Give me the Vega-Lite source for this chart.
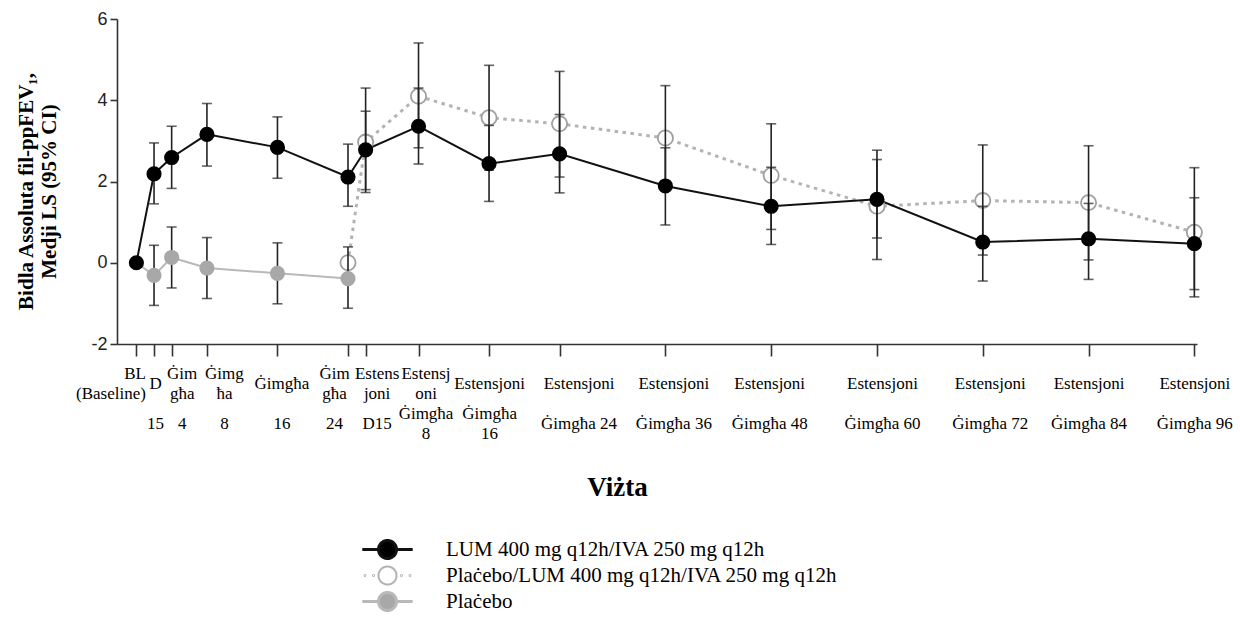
{
  "$schema": "https://vega.github.io/schema/vega-lite/v6.json",
  "width": 1080,
  "height": 325,
  "autosize": {"type": "none"},
  "padding": {"left": 117, "top": 19, "right": 43, "bottom": 274},
  "background": "white",
  "config": {
    "view": {"stroke": null},
    "axis": {"grid": false, "domainColor": "#333333", "domainWidth": 1.6, "tickColor": "#333333", "tickWidth": 1.6}
  },
  "data": {
    "values": [
      {"group": "LUM 400 mg q12h/IVA 250 mg q12h", "week": 0, "mean": 0, "lo": null, "hi": null},
      {"group": "LUM 400 mg q12h/IVA 250 mg q12h", "week": 2, "mean": 2.19, "lo": 1.45, "hi": 2.95},
      {"group": "LUM 400 mg q12h/IVA 250 mg q12h", "week": 4, "mean": 2.59, "lo": 1.83, "hi": 3.36},
      {"group": "LUM 400 mg q12h/IVA 250 mg q12h", "week": 8, "mean": 3.16, "lo": 2.38, "hi": 3.92},
      {"group": "LUM 400 mg q12h/IVA 250 mg q12h", "week": 16, "mean": 2.84, "lo": 2.08, "hi": 3.59},
      {"group": "LUM 400 mg q12h/IVA 250 mg q12h", "week": 24, "mean": 2.11, "lo": 1.39, "hi": 2.92},
      {"group": "LUM 400 mg q12h/IVA 250 mg q12h", "week": 26, "mean": 2.78, "lo": 1.8, "hi": 3.73},
      {"group": "LUM 400 mg q12h/IVA 250 mg q12h", "week": 32, "mean": 3.36, "lo": 2.43, "hi": 4.3},
      {"group": "LUM 400 mg q12h/IVA 250 mg q12h", "week": 40, "mean": 2.44, "lo": 1.51, "hi": 3.38},
      {"group": "LUM 400 mg q12h/IVA 250 mg q12h", "week": 48, "mean": 2.68, "lo": 1.72, "hi": 3.65},
      {"group": "LUM 400 mg q12h/IVA 250 mg q12h", "week": 60, "mean": 1.89, "lo": 0.93, "hi": 2.83},
      {"group": "LUM 400 mg q12h/IVA 250 mg q12h", "week": 72, "mean": 1.39, "lo": 0.45, "hi": 2.35},
      {"group": "LUM 400 mg q12h/IVA 250 mg q12h", "week": 84, "mean": 1.56, "lo": 0.61, "hi": 2.54},
      {"group": "LUM 400 mg q12h/IVA 250 mg q12h", "week": 96, "mean": 0.51, "lo": -0.45, "hi": 1.39},
      {"group": "LUM 400 mg q12h/IVA 250 mg q12h", "week": 108, "mean": 0.59, "lo": -0.41, "hi": 1.46},
      {"group": "LUM 400 mg q12h/IVA 250 mg q12h", "week": 120, "mean": 0.47, "lo": -0.66, "hi": 1.6},
      {"group": "Plaċebo", "week": 0, "mean": 0, "lo": null, "hi": null},
      {"group": "Plaċebo", "week": 2, "mean": -0.31, "lo": -1.05, "hi": 0.43},
      {"group": "Plaċebo", "week": 4, "mean": 0.13, "lo": -0.62, "hi": 0.88},
      {"group": "Plaċebo", "week": 8, "mean": -0.13, "lo": -0.88, "hi": 0.62},
      {"group": "Plaċebo", "week": 16, "mean": -0.26, "lo": -1.01, "hi": 0.49},
      {"group": "Plaċebo", "week": 24, "mean": -0.39, "lo": -1.12, "hi": 0.39},
      {"group": "Plaċebo/LUM 400 mg q12h/IVA 250 mg q12h", "week": 24, "mean": 0, "lo": null, "hi": null},
      {"group": "Plaċebo/LUM 400 mg q12h/IVA 250 mg q12h", "week": 26, "mean": 2.97, "lo": 1.73, "hi": 4.3},
      {"group": "Plaċebo/LUM 400 mg q12h/IVA 250 mg q12h", "week": 32, "mean": 4.1, "lo": 2.83, "hi": 5.41},
      {"group": "Plaċebo/LUM 400 mg q12h/IVA 250 mg q12h", "week": 40, "mean": 3.57, "lo": 2.28, "hi": 4.86},
      {"group": "Plaċebo/LUM 400 mg q12h/IVA 250 mg q12h", "week": 48, "mean": 3.42, "lo": 2.11, "hi": 4.71},
      {"group": "Plaċebo/LUM 400 mg q12h/IVA 250 mg q12h", "week": 60, "mean": 3.07, "lo": 1.78, "hi": 4.36},
      {"group": "Plaċebo/LUM 400 mg q12h/IVA 250 mg q12h", "week": 72, "mean": 2.15, "lo": 0.82, "hi": 3.42},
      {"group": "Plaċebo/LUM 400 mg q12h/IVA 250 mg q12h", "week": 84, "mean": 1.39, "lo": 0.08, "hi": 2.77},
      {"group": "Plaċebo/LUM 400 mg q12h/IVA 250 mg q12h", "week": 96, "mean": 1.53, "lo": 0.19, "hi": 2.9},
      {"group": "Plaċebo/LUM 400 mg q12h/IVA 250 mg q12h", "week": 108, "mean": 1.48, "lo": 0.07, "hi": 2.88},
      {"group": "Plaċebo/LUM 400 mg q12h/IVA 250 mg q12h", "week": 120, "mean": 0.75, "lo": -0.84, "hi": 2.34}
    ]
  },
  "encoding": {
    "x": {
      "field": "week", "type": "quantitative",
      "scale": {"domain": [-2.2, 120.3], "nice": false, "zero": false},
      "axis": {
        "title": "Viżta",
        "values": [0, 2, 4, 8, 16, 24, 26, 32, 40, 48, 60, 72, 84, 96, 108, 120],
        "labelExpr": "datum.value == 0 ? ['BL','\u200b','(Baseline)'] : datum.value == 2 ? ['\u200b','D','\u200b','\u200b','\u200b','15'] : datum.value == 4 ? ['Ġim','\u200b','għa','\u200b','\u200b','4'] : datum.value == 8 ? ['Ġimg','\u200b','ħa','\u200b','\u200b','8'] : datum.value == 16 ? ['\u200b','Ġimgħa','\u200b','\u200b','\u200b','16'] : datum.value == 24 ? ['Ġim','\u200b','għa','\u200b','\u200b','24'] : datum.value == 26 ? ['Estens','\u200b','joni','\u200b','\u200b','D15'] : datum.value == 32 ? ['Estensj','\u200b','oni','\u200b','Ġimgħa','\u200b','8'] : datum.value == 40 ? ['\u200b','Estensjoni','\u200b','\u200b','Ġimgħa','\u200b','16'] : ['\u200b','Estensjoni','\u200b','\u200b','\u200b','Ġimgħa ' + (datum.value - 24)]",
        "labelOverlap": false, "labelFlush": false, "labelBound": false, "labelAngle": 0,
        "labelFont": "Liberation Serif", "labelFontSize": 17, "labelLineHeight": 10,
        "labelColor": "#000000", "labelPadding": 9, "labelBaseline": "top", "tickSize": 12,
        "labelAlign": {"condition": {"test": "datum.value == 0", "value": "right"}, "value": "center"},
        "labelOffset": {
          "condition": [
            {"test": "datum.value == 0", "value": 9},
            {"test": "datum.value == 2", "value": 1},
            {"test": "datum.value == 4", "value": 10},
            {"test": "datum.value == 8", "value": 17},
            {"test": "datum.value == 16", "value": 4},
            {"test": "datum.value == 24", "value": -14},
            {"test": "datum.value == 26", "value": 11},
            {"test": "datum.value == 32", "value": 7},
            {"test": "datum.value == 48", "value": 19},
            {"test": "datum.value == 60", "value": 8},
            {"test": "datum.value == 72", "value": -2},
            {"test": "datum.value == 84", "value": 5},
            {"test": "datum.value == 96", "value": 7}
          ],
          "value": 0
        },
        "titleFont": "Liberation Serif", "titleFontSize": 27, "titleFontWeight": "bold",
        "titleColor": "#000000", "titleX": 500, "titleY": 143, "titleBaseline": "middle"
      }
    },
    "y": {
      "field": "mean", "type": "quantitative",
      "scale": {"domain": [-2, 6], "nice": false},
      "axis": {
        "title": ["Bidla Assoluta fil-ppFEV₁,", "Medji LS (95% CI)"],
        "values": [-2, 0, 2, 4, 6],
        "labelExpr": "replace(datum.label, '−', '-')",
        "labelFont": "Liberation Sans", "labelFontSize": 18, "labelColor": "#222222",
        "tickSize": 7, "labelPadding": 3,
        "titleFont": "Liberation Serif", "titleFontSize": 21, "titleFontWeight": "bold",
        "titleLineHeight": 23, "titleColor": "#000000", "titlePadding": 31, "titleY": 172
      }
    }
  },
  "layer": [
    {
      "transform": [{"filter": "datum.group == 'Plaċebo'"}],
      "mark": {"type": "line", "color": "#b9b9b9", "strokeWidth": 2}
    },
    {
      "transform": [{"filter": "datum.group == 'Plaċebo/LUM 400 mg q12h/IVA 250 mg q12h'"}],
      "mark": {"type": "line", "color": "#b3b3b3", "strokeWidth": 3, "strokeDash": [3.5, 4.5]}
    },
    {
      "transform": [{"filter": "datum.group == 'LUM 400 mg q12h/IVA 250 mg q12h'"}],
      "mark": {"type": "line", "strokeWidth": 2},
      "encoding": {
        "color": {
          "field": "group", "type": "nominal",
          "scale": {
            "domain": ["LUM 400 mg q12h/IVA 250 mg q12h", "Plaċebo/LUM 400 mg q12h/IVA 250 mg q12h", "Plaċebo"],
            "range": ["#111111", "#b3b3b3", "#b9b9b9"]
          },
          "legend": {
            "orient": "none", "legendX": 260, "legendY": 520, "title": null, "padding": 0,
            "direction": "vertical", "symbolSize": 324, "labelOffset": 48,
            "labelFont": "Liberation Serif", "labelFontSize": 21, "labelColor": "#000000",
            "labelLimit": 700, "rowPadding": -3,
            "encode": {
              "symbols": {
                "update": {
                  "shape": {"signal": "datum.index == 1 ? 'M-1,0A1,1,0,1,1,1,0A1,1,0,1,1,-1,0ZM-2.55,0A0.05,0.05,0,1,1,-2.45,0A0.05,0.05,0,1,1,-2.55,0ZM-1.6,0A0.05,0.05,0,1,1,-1.5,0A0.05,0.05,0,1,1,-1.6,0ZM1.5,0A0.05,0.05,0,1,1,1.6,0A0.05,0.05,0,1,1,1.5,0ZM2.45,0A0.05,0.05,0,1,1,2.55,0A0.05,0.05,0,1,1,2.45,0Z' : 'M-2.8,0L-1,0M1,0L2.8,0M-1,0A1,1,0,1,1,1,0A1,1,0,1,1,-1,0Z'"},
                  "fill": {"signal": "datum.index == 0 ? '#000000' : datum.index == 1 ? '#ffffff' : '#a8a8a8'"},
                  "stroke": {"signal": "datum.index == 0 ? '#000000' : datum.index == 1 ? '#a0a0a0' : '#b0b0b0'"},
                  "strokeWidth": {"signal": "datum.index == 1 ? 2 : 3"},
                  "strokeDash": {"value": [1, 0]},
                  "opacity": {"value": 1}
                }
              }
            }
          }
        }
      }
    },
    {
      "transform": [{"filter": "datum.group == 'Plaċebo/LUM 400 mg q12h/IVA 250 mg q12h'"}],
      "mark": {"type": "point", "shape": "circle", "filled": true, "fill": "#ffffff", "stroke": "#a0a0a0", "strokeWidth": 1.8, "size": 230, "opacity": 1}
    },
    {
      "transform": [{"filter": "isValid(datum.lo)"}],
      "mark": {"type": "errorbar", "ticks": true, "size": 10, "thickness": 1.6, "color": "#222222"},
      "encoding": {
        "y": {
          "field": "lo", "type": "quantitative",
          "scale": {"domain": [-2, 6], "nice": false},
          "axis": {
            "title": ["Bidla Assoluta fil-ppFEV₁,", "Medji LS (95% CI)"],
            "values": [-2, 0, 2, 4, 6],
            "labelExpr": "replace(datum.label, '−', '-')",
            "labelFont": "Liberation Sans", "labelFontSize": 18, "labelColor": "#222222",
            "tickSize": 7, "labelPadding": 3,
            "titleFont": "Liberation Serif", "titleFontSize": 21, "titleFontWeight": "bold",
            "titleLineHeight": 23, "titleColor": "#000000", "titlePadding": 31, "titleY": 172
          }
        },
        "y2": {"field": "hi"}
      }
    },
    {
      "transform": [{"filter": "datum.group == 'Plaċebo' && datum.week > 0"}],
      "mark": {"type": "point", "shape": "circle", "filled": true, "color": "#a8a8a8", "size": 230, "opacity": 1}
    },
    {
      "transform": [{"filter": "datum.group == 'LUM 400 mg q12h/IVA 250 mg q12h'"}],
      "mark": {"type": "point", "shape": "circle", "filled": true, "color": "#000000", "size": 230, "opacity": 1}
    }
  ]
}
